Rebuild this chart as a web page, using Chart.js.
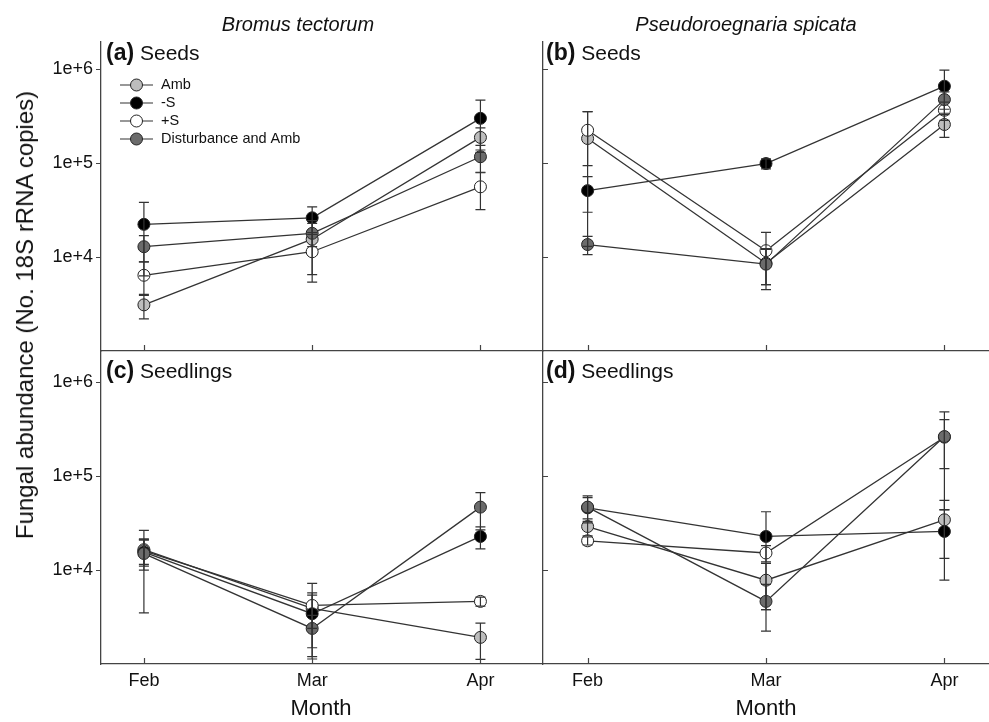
<!DOCTYPE html>
<html>
<head>
<meta charset="utf-8">
<script src="https://cdn.jsdelivr.net/npm/chart.js@4.4.0/dist/chart.umd.min.js"></script>
<style>
  body { margin: 0; width: 989px; height: 722px; overflow: hidden; position: relative; background: #fff;
         font-family: "Liberation Sans", Arial, sans-serif; color: #111; }
  canvas { position: absolute; left: 0; top: 0; }
  .txt { position: absolute; white-space: nowrap; }
  .species { font-size: 20px; font-style: italic; transform: translate(-50%, -50%); }
  .panel { font-size: 21px; transform: translateY(-50%); }
  .panel b { font-size: 23px; }
  .ytitle { font-size: 24px; transform: translate(-50%, -50%) rotate(-90deg); }
</style>
</head>
<body>
<canvas id="pa" width="989" height="722"></canvas>
<canvas id="pb" width="989" height="722"></canvas>
<canvas id="pc" width="989" height="722"></canvas>
<canvas id="pd" width="989" height="722"></canvas>

<div class="txt species" style="left:298px; top:24px;">Bromus tectorum</div>
<div class="txt species" style="left:746px; top:24px;">Pseudoroegnaria spicata</div>
<div class="txt panel" style="left:106px; top:52px;"><b>(a)</b> Seeds</div>
<div class="txt panel" style="left:546px; top:52px;"><b>(b)</b> Seeds</div>
<div class="txt panel" style="left:106px; top:370px;"><b>(c)</b> Seedlings</div>
<div class="txt panel" style="left:546px; top:370px;"><b>(d)</b> Seedlings</div>
<div class="txt ytitle" style="left:25px; top:315px;">Fungal abundance (No. 18S rRNA copies)</div>

<script>
const months = ['Feb', 'Mar', 'Apr'];
const monthPos = [1, 2, 3];
const yTicks = [1e4, 1e5, 1e6];
const yTickLabels = ['1e+4', '1e+5', '1e+6'];
const treatments = ['Amb', '-S', '+S', 'Disturbance and Amb'];

// (a) Bromus tectorum, seeds
const btSeedsAmb = [3100, 15500, 188000];
const btSeedsMinusS = [22300, 26200, 300000];
const btSeedsPlusS = [6400, 11400, 56000];
const btSeedsDist = [12900, 17900, 117000];
const btSeedsAmbSE = [900, 9000, 50000];
const btSeedsMinusSSE = [16000, 8000, 170000];
const btSeedsPlusSSE = [2500, 6000, 24000];
const btSeedsDistSE = [4000, 5000, 38000];

// (b) Pseudoroegnaria spicata, seeds
const psSeedsAmb = [183000, 8600, 258000];
const psSeedsMinusS = [51000, 99000, 660000];
const psSeedsPlusS = [224000, 11700, 366000];
const psSeedsDist = [13600, 8400, 475000];
const psSeedsAmbSE = [170000, 3500, 70000];
const psSeedsMinusSSE = [21000, 12000, 320000];
const psSeedsPlusSSE = [130000, 6600, 80000];
const psSeedsDistSE = [3000, 3900, 100000];

// (c) Bromus tectorum, seedlings
const btSdlAmb = [16500, 3900, 1920];
const btSdlMinusS = [15500, 3430, 22800];
const btSdlPlusS = [16000, 4200, 4640];
const btSdlDist = [15000, 2390, 46800];
const btSdlAmbSE = [5000, 1500, 800];
const btSdlMinusSSE = [5500, 2300, 6000];
const btSdlPlusSSE = [5000, 3000, 500];
const btSdlDistSE = [11500, 900, 20000];

// (d) Pseudoroegnaria spicata, seedlings
const psSdlAmb = [29100, 7800, 34300];
const psSdlMinusS = [46000, 22800, 25800];
const psSdlPlusS = [20500, 15200, 260000];
const psSdlDist = [46800, 4640, 264000];
const psSdlAmbSE = [6000, 4000, 21000];
const psSdlMinusSSE = [13000, 19000, 18000];
const psSdlPlusSSE = [2000, 3000, 140000];
const psSdlDistSE = [15000, 2400, 220000];

const treatFill = ['#bdbdbd', '#000000', '#ffffff', '#6b6b6b'];
const treatOrder = [4, 2, 3, 1];
const fontFamily = '"Liberation Sans", Arial, sans-serif';
Chart.defaults.font.family = fontFamily;

function buildDatasets(valueLists, seLists) {
  return treatments.map((name, t) => ({
    label: name,
    data: monthPos.map((m, i) => ({ x: m, y: valueLists[t][i] })),
    se: seLists[t],
    order: treatOrder[t],
    borderColor: '#333',
    borderWidth: 1.3,
    backgroundColor: treatFill[t],
    pointBackgroundColor: treatFill[t],
    pointBorderColor: '#222',
    pointBorderWidth: 1,
    pointRadius: 6,
    fill: false,
    tension: 0
  }));
}

const errorBars = {
  id: 'errorBars',
  afterDatasetsDraw(chart) {
    const ctx = chart.ctx, xs = chart.scales.x, ys = chart.scales.y;
    ctx.save();
    ctx.strokeStyle = '#333';
    ctx.lineWidth = 1.2;
    chart.data.datasets.forEach(ds => {
      ds.data.forEach((p, i) => {
        const px = xs.getPixelForValue(p.x);
        const top = ys.getPixelForValue(p.y + ds.se[i]);
        const lowVal = p.y - ds.se[i];
        const bot = ys.getPixelForValue(Math.max(lowVal, ys.min));
        ctx.beginPath();
        ctx.moveTo(px, top); ctx.lineTo(px, bot);
        ctx.moveTo(px - 5, top); ctx.lineTo(px + 5, top);
        if (lowVal > ys.min) { ctx.moveTo(px - 5, bot); ctx.lineTo(px + 5, bot); }
        ctx.stroke();
      });
    });
    ctx.restore();
  }
};

const axisTicks = {
  id: 'axisTicks',
  defaults: { yInside: false },
  afterDraw(chart, args, opts) {
    const ctx = chart.ctx, xs = chart.scales.x, ys = chart.scales.y, area = chart.chartArea;
    ctx.save();
    ctx.strokeStyle = '#444';
    ctx.lineWidth = 1.2;
    ctx.beginPath();
    yTicks.forEach(v => {
      const py = Math.round(ys.getPixelForValue(v)) + 0.5;
      ctx.moveTo(area.left, py);
      ctx.lineTo(opts.yInside ? area.left + 5 : area.left - 5, py);
    });
    monthPos.forEach(v => {
      const px = Math.round(xs.getPixelForValue(v)) + 0.5;
      ctx.moveTo(px, area.bottom);
      ctx.lineTo(px, area.bottom - 6);
    });
    ctx.stroke();
    ctx.restore();
  }
};

const insetLegend = {
  id: 'insetLegend',
  defaults: { display: false, x: 120, y: 85, gap: 18 },
  afterDraw(chart, args, opts) {
    if (!opts.display) return;
    const ctx = chart.ctx;
    ctx.save();
    chart.data.datasets.forEach((ds, i) => {
      const y = opts.y + i * opts.gap;
      ctx.strokeStyle = '#333';
      ctx.lineWidth = 1.2;
      ctx.beginPath();
      ctx.moveTo(opts.x, y); ctx.lineTo(opts.x + 33, y);
      ctx.stroke();
      ctx.beginPath();
      ctx.arc(opts.x + 16.5, y, 6, 0, Math.PI * 2);
      ctx.fillStyle = ds.pointBackgroundColor;
      ctx.fill();
      ctx.strokeStyle = '#222';
      ctx.lineWidth = 1;
      ctx.stroke();
      ctx.fillStyle = '#111';
      ctx.font = '14.5px ' + fontFamily;
      ctx.textBaseline = 'middle';
      ctx.fillText(ds.label, opts.x + 41, y);
    });
    ctx.restore();
  }
};

function makePanel(id, datasets, cfg) {
  return new Chart(document.getElementById(id), {
    type: 'line',
    data: { datasets },
    options: {
      responsive: false,
      animation: false,
      events: [],
      layout: { padding: cfg.pad, autoPadding: false },
      plugins: {
        legend: { display: false },
        tooltip: { enabled: false },
        insetLegend: { display: !!cfg.legend },
        axisTicks: { yInside: !!cfg.yInside }
      },
      scales: {
        x: {
          type: 'linear',
          min: cfg.xMin,
          max: cfg.xMax,
          bounds: 'data',
          afterBuildTicks: s => { s.ticks = monthPos.map(v => ({ value: v })); },
          afterFit: s => { s.height = cfg.xHeight; },
          grid: { display: false, drawTicks: false },
          border: { display: true, color: '#444', width: 1.3 },
          ticks: {
            display: cfg.xLabels,
            padding: 6,
            color: '#111',
            font: { size: 18 },
            autoSkip: false,
            maxRotation: 0,
            callback: v => months[monthPos.indexOf(v)]
          },
          title: { display: cfg.xLabels, text: 'Month', color: '#111', font: { size: 22 }, padding: 0 }
        },
        y: {
          type: 'logarithmic',
          min: 1000,
          max: cfg.yMax,
          bounds: 'data',
          afterBuildTicks: s => { s.ticks = yTicks.map(v => ({ value: v })); },
          afterFit: s => { s.width = cfg.yWidth; },
          grid: { display: false, drawTicks: false },
          border: { display: true, color: '#444', width: 1.3 },
          ticks: {
            display: cfg.yLabels,
            padding: 8,
            color: '#111',
            font: { size: 18 },
            autoSkip: false,
            callback: v => yTickLabels[yTicks.indexOf(v)]
          }
        }
      }
    },
    plugins: [errorBars, axisTicks, insetLegend]
  });
}

makePanel('pa',
  buildDatasets([btSeedsAmb, btSeedsMinusS, btSeedsPlusS, btSeedsDist],
                [btSeedsAmbSE, btSeedsMinusSSE, btSeedsPlusSSE, btSeedsDistSE]),
  { pad: { left: 0, right: 448, top: 42, bottom: 371 }, xMin: 0.745, xMax: 3.36, yMax: 1.95e6,
    xHeight: 0, yWidth: 101, xLabels: false, yLabels: true, legend: true });

makePanel('pb',
  buildDatasets([psSeedsAmb, psSeedsMinusS, psSeedsPlusS, psSeedsDist],
                [psSeedsAmbSE, psSeedsMinusSSE, psSeedsPlusSSE, psSeedsDistSE]),
  { pad: { left: 543, right: 0, top: 42, bottom: 371 }, xMin: 0.75, xMax: 3.25, yMax: 1.95e6,
    xHeight: 0, yWidth: 0, xLabels: false, yLabels: false, yInside: true });

makePanel('pc',
  buildDatasets([btSdlAmb, btSdlMinusS, btSdlPlusS, btSdlDist],
                [btSdlAmbSE, btSdlMinusSSE, btSdlPlusSSE, btSdlDistSE]),
  { pad: { left: 0, right: 448, top: 351, bottom: 0 }, xMin: 0.745, xMax: 3.36, yMax: 2.15e6,
    xHeight: 58, yWidth: 101, xLabels: true, yLabels: true });

makePanel('pd',
  buildDatasets([psSdlAmb, psSdlMinusS, psSdlPlusS, psSdlDist],
                [psSdlAmbSE, psSdlMinusSSE, psSdlPlusSSE, psSdlDistSE]),
  { pad: { left: 543, right: 0, top: 351, bottom: 0 }, xMin: 0.75, xMax: 3.25, yMax: 2.15e6,
    xHeight: 58, yWidth: 0, xLabels: true, yLabels: false, yInside: true });
</script>
</body>
</html>
